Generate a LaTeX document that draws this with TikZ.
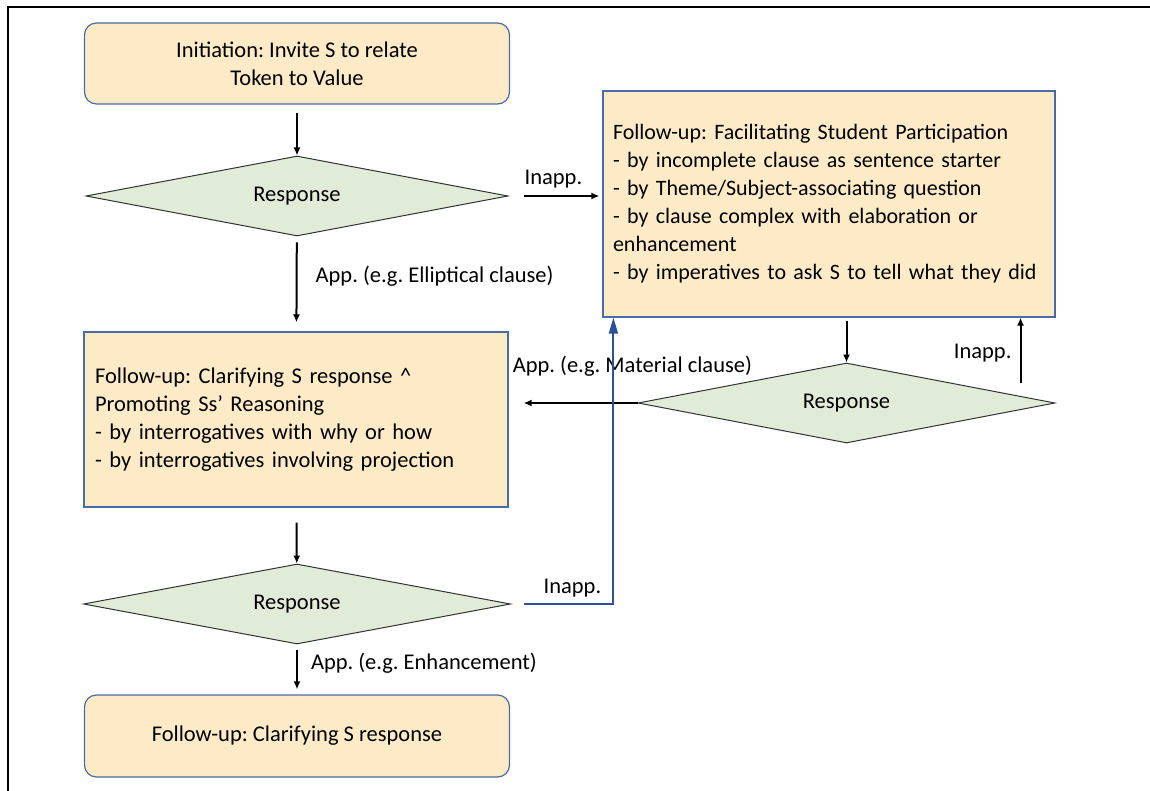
\documentclass[tikz,border=0pt]{standalone}
\usepackage{fontspec}
\setmainfont{Carlito}
\frenchspacing
\usetikzlibrary{shapes.geometric,arrows.meta,calc}

\definecolor{fufill}{HTML}{FDEBC8}
\definecolor{fuline}{HTML}{4A6BA6}
\definecolor{respfill}{HTML}{E0ECD7}
\definecolor{inappblue}{HTML}{2F5096}

\tikzset{
	block/.style = {rectangle, draw=fuline, fill=fufill, line width=1.2pt,
		rounded corners=12pt, align=center, minimum width=425pt, minimum height=81pt},
	procedure/.style = {rectangle, draw=fuline, fill=fufill, line width=1.2pt,
		align=left, inner xsep=10pt},
	decision/.style = {diamond, aspect=5, draw=black!80, fill=respfill, line width=1pt,
		inner sep=0pt, minimum width=422pt, minimum height=80pt},
	line/.style = {draw, line width=2pt, -{Latex[length=8pt,width=7pt]}, shorten <=6pt},
	line1/.style = {draw=inappblue, line width=2pt, -{Triangle[length=16pt,width=9pt]}},
	textdata/.style = {inner sep=2pt}
}

\begin{document}
\begin{tikzpicture}[x=1pt, y=-1pt, font=\fontsize{22.5}{28}\selectfont]
	\useasboundingbox (0,0) rectangle (1150,791);
	
	%frame
	\draw [line width=2pt] (8,791) -- (8,7) -- (1150,7);
	
	\node [block] (init) at (297,63.5) {Initiation: Invite S to relate\\Token to Value};
	\node [decision, below of = init, node distance = 132.5pt] (resp1) {Response};
	\node [procedure, below of = resp1, node distance = 223.5pt, xshift=-1pt, text width=402pt, inner xsep=11pt, minimum height=175pt] (clar) {Follow-up: Clarifying S response \textasciicircum\\
		Promoting Ss’ Reasoning\\
		- by interrogatives with why or how\\
		- by interrogatives involving projection};
	\node [decision, below of = clar, node distance = 184.5pt, xshift=1pt, minimum width=427pt] (resp3) {Response};
	\node [block, below of = resp3, node distance = 132pt, minimum height=82pt] (final) {Follow-up: Clarifying S response};
	
	%right column
	\node [procedure, right of = resp1, node distance = 532pt, yshift=-8pt, text width=432pt, minimum height=226pt, font=\fontsize{22}{28}\selectfont] (fb) {Follow-up: Facilitating Student Participation\\
		- by incomplete clause as sentence starter\\
		- by Theme/Subject-associating question\\
		- by clause complex with elaboration or\\
		enhancement\\
		- by imperatives to ask S to tell what they did};
	\node [decision, below of = fb, node distance = 199pt, xshift=17.5pt, minimum width=417pt] (resp2) {Response};
	
	\coordinate (upB) at ([xshift=-35pt, yshift=20pt]resp2.east);
	
	\path [line, shorten <=8pt] (init) -- (resp1);
	\path [line, shorten >=9pt] (resp1) -- node [right, textdata, xshift=16pt, yshift=8pt] {App. (e.g. Elliptical clause)} (clar);
	\path [line, shorten <=15pt, shorten >=3pt] (resp1.east) -- node [above, textdata, xshift=-2pt, yshift=5pt] {Inapp.} (resp1.east -| fb.west);
	\path [line, shorten <=3pt] (fb.south -| resp2.north) -- (resp2.north);
	\path [line, shorten <=0pt] (upB) -- node [left, textdata, xshift=-6pt, yshift=-3pt] {Inapp.} (upB |- fb.south);
	\path [line, shorten <=0pt, shorten >=15pt] (resp2.west) -- (resp2.west -| clar.east);
	\node [textdata, anchor=south west] (matlbl) at ([xshift=2pt, yshift=24pt]clar.east |- resp2.west) {App. (e.g. Material clause)};
	\path [line, shorten <=15pt] (clar) -- (resp3);
	\path [line, shorten <=5pt, shorten >=5pt] (resp3) -- node [right, textdata, xshift=11pt, yshift=6pt] {App. (e.g. Enhancement)} (final);
	
	%back to facilitating
	\path [line1, shorten <=13pt] (resp3.east) -| node [pos=0.3, above, textdata, yshift=4pt] {Inapp.} ([xshift=11pt]fb.south west);
	
\end{tikzpicture}
\end{document}
